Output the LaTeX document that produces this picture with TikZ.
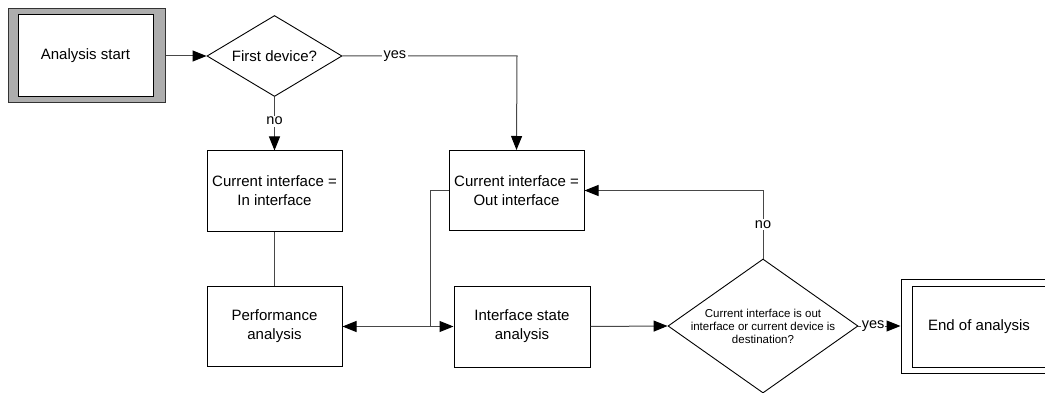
\documentclass[tikz,border=0pt]{standalone}
\usepackage{fontspec}
\setmainfont{Liberation Sans}
\usetikzlibrary{arrows.meta,shapes.geometric}
\begin{document}
\begin{tikzpicture}[x=1pt,y=-1pt,
  box/.style={draw=black,line width=1pt,fill=white,minimum width=135pt,minimum height=80pt,inner sep=0pt,align=center,font=\fontsize{15}{19}\selectfont},
  dia/.style={draw=black,line width=0.9pt,fill=white,diamond,inner sep=0pt,align=center},
  conn/.style={draw=black!72,line width=1pt},
  arr/.style={conn,-{Triangle[length=14pt,width=11pt,color=black,fill=black]}},
  lbl/.style={fill=white,inner sep=1.5pt,font=\fontsize{14.5}{16}\selectfont}]
\useasboundingbox (0,0) rectangle (1045,393);
% start
\node[draw=black!80,line width=1pt,fill=black!32,minimum width=157pt,minimum height=94pt,inner sep=0pt] (startout) at (86.5,56) {};
\node[box,minimum width=135pt,minimum height=82pt] (start) at (85.5,56) {Analysis start};
% first decision
\node[dia,minimum width=135pt,minimum height=81pt] (d1) at (274.5,56) {};
\node[font=\fontsize{15}{18}\selectfont] (d1t) at (274.5,56) {First device?};
% boxes
\node[box] (inif) at (274.5,191) {Current interface =\\In interface};
\node[box] (perf) at (274.5,326.5) {Performance\\analysis};
\node[box] (outif) at (516.5,190.5) {Current interface =\\Out interface};
\node[box,minimum width=136pt,minimum height=81pt] (isa) at (522,326.5) {Interface state\\analysis};
% second decision
\node[dia,minimum width=190pt,minimum height=134pt] (d2) at (763,326) {};
\node[align=center,font=\fontsize{11.5}{13}\selectfont] (d2t) at (763,326) {Current interface is out\\interface or current device is\\destination?};
% end
\node[draw=black,line width=1pt,fill=white,minimum width=156pt,minimum height=94pt,inner sep=0pt] (endout) at (979,326) {};
\node[box,minimum width=134pt,minimum height=81pt] (end) at (979,326.5) {End of analysis};
% connectors
\draw[arr] (startout.east) -- (d1.west);
\coordinate (c1) at (517,56);
\draw[arr] (d1.east) -- node[lbl,pos=0.3]{yes} (c1) -- (outif.north);
\draw[arr] (d1.south) -- node[lbl,pos=0.45]{no} (inif.north);
\draw[conn] (inif.south) -- (perf.north);
\coordinate (j) at (430,326.5);
\draw[conn] (outif.west) -| (j);
\draw[arr] (j) -- (perf.east);
\draw[arr] (j) -- (isa.west);
\draw[arr] (isa.east) -- (d2.west);
\coordinate (c2) at (763,190.5);
\draw[arr] (d2.north) -- node[lbl,pos=0.5]{no} (c2) -- (outif.east);
\draw[arr] (d2.east) -- node[lbl,pos=0.35,inner sep=1pt]{yes} (endout.west);
\end{tikzpicture}
\end{document}
